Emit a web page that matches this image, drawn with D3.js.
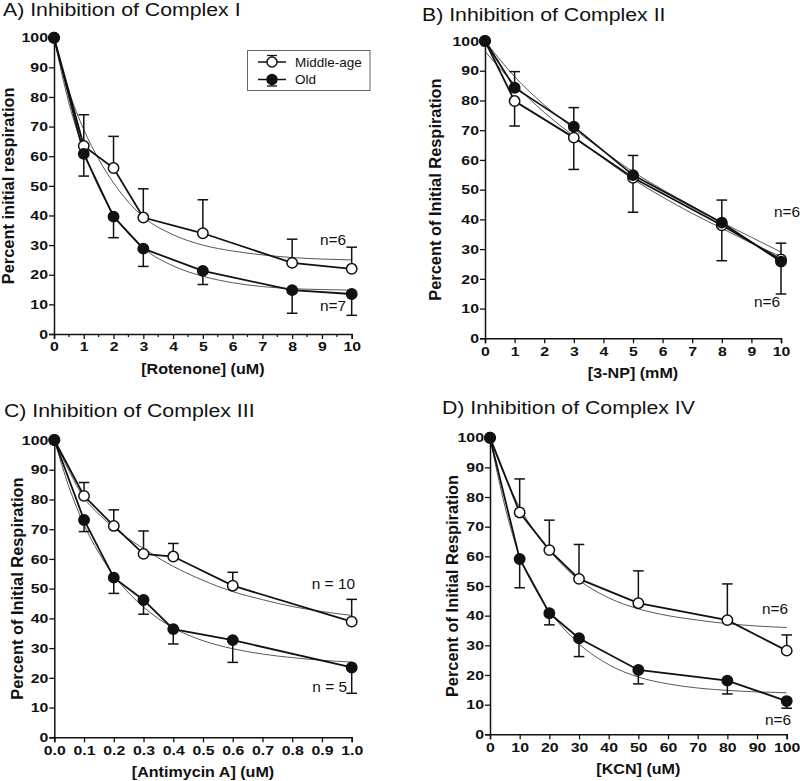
<!DOCTYPE html>
<html>
<head>
<meta charset="utf-8">
<script src="https://cdn.jsdelivr.net/npm/d3@7"></script>
<style>
  html, body { margin: 0; padding: 0; background: #fff; }
  svg { display: block; font-family: "Liberation Sans", Arial, sans-serif; }
</style>
</head>
<body>
<svg id="chart" width="800" height="781"></svg>
<script>
// Four inhibitor dose-response panels (complex I..IV), middle-age vs old.
// Values; error = SEM, drawn one-sided as in the original.

// A) rotenone
const A_X = [0, 1, 2, 3, 5, 8, 10];
const A_MID = [100, 63.5, 56, 39.3, 34, 24, 22];
const A_MID_ERR = [0, 10.5, 10.7, 9.7, 11.3, 8, 7.3];
const A_OLD = [100, 60.8, 39.6, 28.8, 21.3, 14.8, 13.5];
const A_OLD_ERR = [0, 7.5, 7.1, 6, 4.6, 7.8, 7.2];
const A_FIT_X = [0, 0.5, 1, 1.5, 2, 3, 4, 5, 6, 7, 8, 9, 10];
const A_FIT_MID = [100, 82, 69, 59, 51, 39.5, 33.5, 30, 28, 26.7, 25.8, 25.3, 25];
const A_FIT_OLD = [100, 78, 62, 49.5, 40.5, 29, 23, 19.5, 17.3, 16, 15.3, 15, 14.8];

// B) 3-NP
const B_X = [0, 1, 3, 5, 8, 10];
const B_MID = [100, 79.8, 67.5, 54, 38, 26.5];
const B_MID_ERR = [0, 8.4, 10.7, 11.6, 11.9, 11.6];
const B_OLD = [100, 84.3, 71.2, 54.9, 38.9, 25.8];
const B_OLD_ERR = [0, 5.4, 6.4, 6.6, 7.6, 6.2];
const B_FIT_X = [0, 1, 2, 3, 4, 5, 6, 7, 8, 9, 10];
const B_FIT_MID = [96.5, 85.5, 76, 68, 60.5, 53.5, 47.5, 42, 37, 32, 27.5];
const B_FIT_OLD = [100, 88, 78.5, 70.5, 63, 56, 50, 44.5, 39, 34, 29];

// C) antimycin A
const C_X = [0, 0.1, 0.2, 0.3, 0.4, 0.6, 1.0];
const C_MID = [100, 81.2, 71.1, 61.7, 60.8, 51, 38.9];
const C_MID_ERR = [0, 4.5, 5.4, 7.7, 4.4, 4.5, 7.5];
const C_OLD = [100, 73.1, 53.7, 46.2, 36.4, 32.7, 23.5];
const C_OLD_ERR = [0, 3.9, 5.3, 4.8, 5, 7.5, 8.7];
const C_FIT_X = [0, 0.05, 0.1, 0.15, 0.2, 0.3, 0.4, 0.5, 0.6, 0.7, 0.8, 0.9, 1];
const C_FIT_MID = [100, 89.5, 80.5, 75, 70.5, 63.5, 57.5, 52.8, 49, 46.3, 44, 42.3, 41];
const C_FIT_OLD = [100, 84, 71.5, 62, 54.5, 43.8, 36.8, 32.5, 29.8, 28, 26.8, 25.9, 25.3];

// D) KCN
const D_X = [0, 10, 20, 30, 50, 80, 100];
const D_MID = [100, 74.8, 62.1, 52.4, 44.2, 38.5, 28.2];
const D_MID_ERR = [0, 11.3, 10.1, 11.6, 10.9, 12.2, 5.3];
const D_OLD = [100, 59.1, 40.8, 32.4, 21.7, 18.1, 11.2];
const D_OLD_ERR = [0, 9.7, 3.9, 6.2, 4.7, 4.5, 2.4];
const D_FIT_X = [0, 5, 10, 15, 20, 25, 30, 40, 50, 60, 70, 80, 90, 100];
const D_FIT_MID = [100, 87, 76.5, 68.5, 62, 56.5, 52, 46, 42.3, 40, 38.5, 37.3, 36.5, 36];
const D_FIT_OLD = [100, 77, 60, 49.5, 41.5, 35.5, 30.5, 23.5, 19.3, 17, 15.6, 14.8, 14.3, 14];

const Y_TICKS = [0, 10, 20, 30, 40, 50, 60, 70, 80, 90, 100];
const SERIES = ["Middle-age", "Old"];

const svg = d3.select("#chart");
const INK = "#111", FIT = "#444";
const TICK_SX = 1.22;

// horizontal text with a slight x-stretch (the source type is wide)
function label(g, x, y, s, o = {}) {
  return g.append("text")
    .attr("transform", `translate(${x},${y}) scale(${o.sx || 1},1)` + (o.rot ? ` rotate(${o.rot})` : ""))
    .attr("text-anchor", o.anchor || "start")
    .attr("font-size", o.size || 13)
    .attr("font-weight", o.bold ? "bold" : "normal")
    .attr("fill", INK)
    .text(s);
}

const panels = [
  {title: "A) Inhibition of Complex I", tx: 3, ty: 16, L: 54, R: 351.7, T: 37.7, B: 334,
   xmax: 10, xticks: d3.range(0, 11), minor: d3.range(0.5, 10, 1), fmt: d3.format("d"),
   xt: "[Rotenone] (uM)", yt: "Percent initial respiration", ytx: 14,
   x: A_X, mid: A_MID, midErr: A_MID_ERR, old: A_OLD, oldErr: A_OLD_ERR, midUp: true,
   fx: A_FIT_X, fmid: A_FIT_MID, fold: A_FIT_OLD,
   n: [["n=6", 346, 245], ["n=7", 346, 311]], legend: true},
  {title: "B) Inhibition of Complex II", tx: 422, ty: 21, L: 485, R: 781, T: 41, B: 338.3,
   xmax: 10, xticks: d3.range(0, 11), minor: [], fmt: d3.format("d"),
   xt: "[3-NP] (mM)", yt: "Percent of Initial Respiration", ytx: 441,
   x: B_X, mid: B_MID, midErr: B_MID_ERR, old: B_OLD, oldErr: B_OLD_ERR, midUp: false,
   fx: B_FIT_X, fmid: B_FIT_MID, fold: B_FIT_OLD,
   n: [["n=6", 800, 217], ["n=6", 780, 307]]},
  {title: "C) Inhibition of Complex III", tx: 4, ty: 417, L: 54.3, R: 351.7, T: 440, B: 737.3,
   xmax: 1, xticks: d3.range(0, 11).map(i => i / 10), minor: [], fmt: d3.format(".1f"),
   xt: "[Antimycin A] (uM)", yt: "Percent of Initial Respiration", ytx: 23,
   x: C_X, mid: C_MID, midErr: C_MID_ERR, old: C_OLD, oldErr: C_OLD_ERR, midUp: true,
   fx: C_FIT_X, fmid: C_FIT_MID, fold: C_FIT_OLD,
   n: [["n = 10", 355, 589], ["n = 5", 347, 692]]},
  {title: "D) Inhibition of Complex IV", tx: 442, ty: 414, L: 490, R: 786.7, T: 437.7, B: 734.3,
   xmax: 100, xticks: d3.range(0, 101, 10), minor: [], fmt: d3.format("d"),
   xt: "[KCN] (uM)", yt: "Percent of Initial Respiration", ytx: 458,
   x: D_X, mid: D_MID, midErr: D_MID_ERR, old: D_OLD, oldErr: D_OLD_ERR, midUp: true,
   fx: D_FIT_X, fmid: D_FIT_MID, fold: D_FIT_OLD,
   n: [["n=6", 788, 614], ["n=6", 791, 725]]},
];

panels.forEach(drawPanel);

function drawPanel(p) {
  const x = d3.scaleLinear([0, p.xmax], [p.L, p.R]);
  const y = d3.scaleLinear([0, 100], [p.B, p.T]);
  const g = svg.append("g");

  label(g, p.tx, p.ty, p.title, {size: 19, sx: 1.12});

  // axes
  const yAx = g.append("g").attr("transform", `translate(${p.L},0)`)
    .call(d3.axisLeft(y).tickValues(Y_TICKS).tickSize(5).tickPadding(2));
  const xAx = g.append("g").attr("transform", `translate(0,${p.B})`)
    .call(d3.axisBottom(x).tickValues(p.xticks).tickFormat(p.fmt).tickSize(5).tickPadding(3));
  [yAx, xAx].forEach(a => {
    a.select(".domain").attr("stroke", INK).attr("stroke-width", 1.5);
    a.selectAll(".tick line").attr("stroke", INK).attr("stroke-width", 1.3);
    a.selectAll(".tick text").attr("fill", INK).attr("font-size", 13)
      .attr("font-weight", "bold").attr("font-family", "Liberation Sans, Arial, sans-serif");
  });
  yAx.selectAll(".tick text").attr("x", -6 / TICK_SX).attr("transform", `scale(${TICK_SX},1)`);
  xAx.selectAll(".tick text").attr("transform", `scale(${TICK_SX},1)`);
  xAx.selectAll(".minor").data(p.minor).join("line").attr("class", "minor")
    .attr("x1", d => x(d)).attr("x2", d => x(d)).attr("y1", 0).attr("y2", 3)
    .attr("stroke", INK).attr("stroke-width", 1.2);

  label(g, (p.L + p.R) / 2, p.B + 40, p.xt, {size: 14, bold: true, sx: 1.15, anchor: "middle"});
  label(g, p.ytx, (p.T + p.B) / 2, p.yt, {size: 16.4, bold: true, anchor: "middle", rot: -90});

  // fitted curves (thin)
  const fit = d3.line().x(d => x(d[0])).y(d => y(d[1])).curve(d3.curveMonotoneX);
  [p.fmid, p.fold].forEach(fy => {
    g.append("path").attr("d", fit(p.fx.map((v, i) => [v, fy[i]])))
      .attr("fill", "none").attr("stroke", FIT).attr("stroke-width", 0.9);
  });

  // data lines
  const line = d3.line().x(d => x(d[0])).y(d => y(d[1]));
  const sets = [
    {vals: p.mid, err: p.midErr, up: p.midUp, fill: "#fff"},
    {vals: p.old, err: p.oldErr, up: !p.midUp, fill: INK},
  ];
  sets.forEach(s => {
    g.append("path").attr("d", line(p.x.map((v, i) => [v, s.vals[i]])))
      .attr("fill", "none").attr("stroke", INK).attr("stroke-width", 1.8);
  });

  // error bars + markers, open series under filled
  sets.forEach(s => {
    const pts = p.x.map((v, i) => ({x: v, y: s.vals[i], e: s.err[i]})).filter(d => d.e > 0);
    const end = d => y(s.up ? d.y + d.e : d.y - d.e);
    const eb = g.append("g").attr("stroke", INK).attr("stroke-width", 1.5);
    eb.selectAll("line.v").data(pts).join("line").attr("class", "v")
      .attr("x1", d => x(d.x)).attr("x2", d => x(d.x)).attr("y1", d => y(d.y)).attr("y2", end);
    eb.selectAll("line.c").data(pts).join("line").attr("class", "c")
      .attr("x1", d => x(d.x) - 5.3).attr("x2", d => x(d.x) + 5.3).attr("y1", end).attr("y2", end);
  });
  sets.forEach(s => {
    g.append("g").selectAll("circle").data(p.x.map((v, i) => [v, s.vals[i]])).join("circle")
      .attr("cx", d => x(d[0])).attr("cy", d => y(d[1])).attr("r", 5.2)
      .attr("fill", s.fill).attr("stroke", INK).attr("stroke-width", 1.5);
  });

  p.n.forEach(([t, nx, ny]) => label(g, nx, ny, t, {size: 14, sx: 1.1, anchor: "end"}));

  if (p.legend) drawLegend(g);
}

function drawLegend(g) {
  const lg = g.append("g");
  lg.append("rect").attr("x", 247.5).attr("y", 50.5).attr("width", 122.5).attr("height", 40)
    .attr("fill", "#fff").attr("stroke", "#666").attr("stroke-width", 1);
  SERIES.forEach((name, i) => {
    const cy = 62 + i * 17.5, cx = 272;
    lg.append("line").attr("x1", 258).attr("x2", 286).attr("y1", cy).attr("y2", cy)
      .attr("stroke", INK).attr("stroke-width", 1.5);
    const cap = i === 0 ? cy - 6.5 : cy + 6.5;
    lg.append("line").attr("x1", cx).attr("x2", cx).attr("y1", cy).attr("y2", cap)
      .attr("stroke", INK).attr("stroke-width", 1.3);
    lg.append("line").attr("x1", cx - 5).attr("x2", cx + 5).attr("y1", cap).attr("y2", cap)
      .attr("stroke", INK).attr("stroke-width", 1.3);
    lg.append("circle").attr("cx", cx).attr("cy", cy).attr("r", 5)
      .attr("fill", i === 0 ? "#fff" : INK).attr("stroke", INK).attr("stroke-width", 1.5);
    label(lg, 295, cy + 4.5, name, {size: 13.5});
  });
}
</script>
</body>
</html>
